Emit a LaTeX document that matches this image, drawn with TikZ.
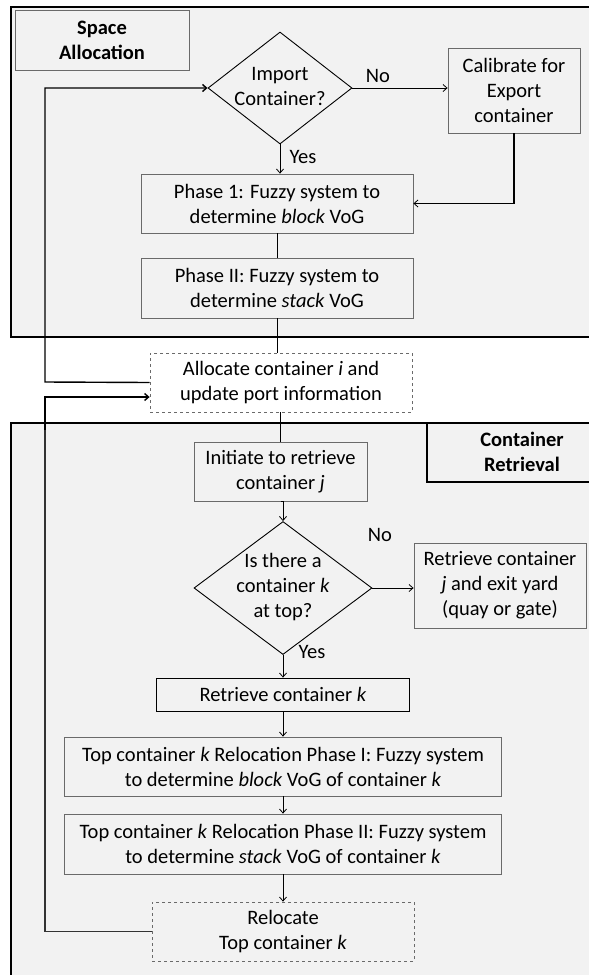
\documentclass[tikz,border=0pt]{standalone}
\usepackage{fontspec}
\setmainfont{Carlito}
\usetikzlibrary{shapes.geometric,arrows.meta}
\definecolor{panel}{HTML}{F2F2F2}
\definecolor{boxgray}{HTML}{6A6A6A}
\begin{document}
\begin{tikzpicture}[x=1pt,y=-1pt,
  font=\fontsize{20.5}{25}\selectfont,
  box/.style={draw=boxgray, fill=panel, line width=0.8pt, inner sep=0pt, align=center},
  dia/.style={diamond, draw=black, fill=panel, line width=0.9pt, inner sep=0pt},
  conn/.style={draw=black, line width=0.8pt},
  arr/.style={conn, -{Straight Barb[length=4pt,width=7pt]}},
  loopln/.style={draw=black, line width=1.4pt},
  loopar/.style={loopln, -{Straight Barb[length=4pt,width=7pt]}},
  lbl/.style={inner sep=0pt}]
\clip (0,0) rectangle (589,975);
\fill[white] (0,0) rectangle (589,975);
% panels
\draw[fill=panel, line width=1.2pt] (11,7) rectangle (620,337);
\draw[fill=panel, line width=1.2pt] (11,423) rectangle (620,1000);
\node[box, minimum width=174pt, minimum height=60pt, font=\fontsize{20.5}{25}\selectfont\bfseries] (sa) at (102,40) {Space\\Allocation};
\draw[draw=black, line width=1.2pt, fill=panel] (620,423) -- (427,423) -- (427,482) -- (620,482);
\node[lbl, align=center, font=\fontsize{20.5}{25}\selectfont\bfseries] (cr) at (522,452) {Container\\Retrieval};
% top flow
\node[dia, minimum width=144pt, minimum height=112pt] (d1) at (280,88) {};
\node[lbl, align=center] (d1t) at (280,86) {Import\\Container?};
\node[box, minimum width=132pt, minimum height=85pt] (cal) at (514,90.5) {Calibrate for\\Export\\container};
\node[box, minimum width=272pt, minimum height=59pt] (p1) at (277,203.5) {Phase 1: Fuzzy system to\\determine \textit{block} VoG};
\node[box, minimum width=272pt, minimum height=60pt] (p2) at (277,288) {Phase II: Fuzzy system to\\determine \textit{stack} VoG};
\node[box, dashed, fill=white, minimum width=262pt, minimum height=59pt] (al) at (281,382.5) {Allocate container \textit{i} and\\update port information};
% bottom flow
\node[box, minimum width=173pt, minimum height=59pt] (in) at (280.5,471.5) {Initiate to retrieve\\container \textit{j}};
\node[dia, minimum width=178pt, minimum height=133pt] (d2) at (283,588) {};
\node[lbl, align=center] (d2t) at (283,587) {Is there a\\container \textit{k}\\at top?};
\node[box, minimum width=172pt, minimum height=85pt] (rj) at (500,585.5) {Retrieve container\\\textit{j} and exit yard\\(quay or gate)};
\node[box, draw=black, minimum width=253pt, minimum height=33pt] (rk) at (283,694.5) {Retrieve container \textit{k}};
\node[box, minimum width=437pt, minimum height=59pt] (t1) at (283,766.5) {Top container \textit{k} Relocation Phase I: Fuzzy system\\to determine \textit{block} VoG of container \textit{k}};
\node[box, minimum width=437pt, minimum height=60pt] (t2) at (283,844) {Top container \textit{k} Relocation Phase II: Fuzzy system\\to determine \textit{stack} VoG of container \textit{k}};
\node[box, dashed, minimum width=262pt, minimum height=59pt] (rl) at (283,931.5) {Relocate\\Top container \textit{k}};
% connectors top
\draw[arr] (d1.east) -- (cal.west |- d1.east);
\node[lbl] (no1) at (378,76) {No};
\draw[conn, line width=1.1pt] (cal.south) -- (cal.south |- p1.east);
\draw[arr] (cal.south |- p1.east) -- (p1.east);
\draw[arr] (d1.south) -- (d1.south |- p1.north);
\node[lbl] (yes1) at (303,157) {Yes};
\draw[conn] (p1.south) -- (p2.north);
\draw[conn] (p2.south) -- (p2.south |- al.north);
\draw[conn] (al.south -| in.north) -- (in.north);
% connectors bottom
\draw[arr] (in.south) -- (in.south -| d2.north) -- (d2.north);
\draw[arr] (d2.east) -- (d2.east -| rj.west);
\node[lbl] (no2) at (380,535) {No};
\draw[arr] (d2.south) -- (rk.north);
\node[lbl] (yes2) at (312,652) {Yes};
\draw[arr] (rk.south) -- (t1.north);
\draw[arr] (t1.south) -- (t2.north);
\draw[arr] (t2.south) -- (rl.north);
% loops
\coordinate (la) at (45,382);
\coordinate (lb) at (45,397);
\draw[loopar] (al.west) -- (la) -- (la |- d1.west) -- (d1.west);
\draw[conn, line width=1.1pt, draw=black!80] (rl.west) -- (rl.west -| lb) -- (lb);
\draw[loopar] (45,430) -- (lb) -- (lb -| al.west);
\end{tikzpicture}
\end{document}
